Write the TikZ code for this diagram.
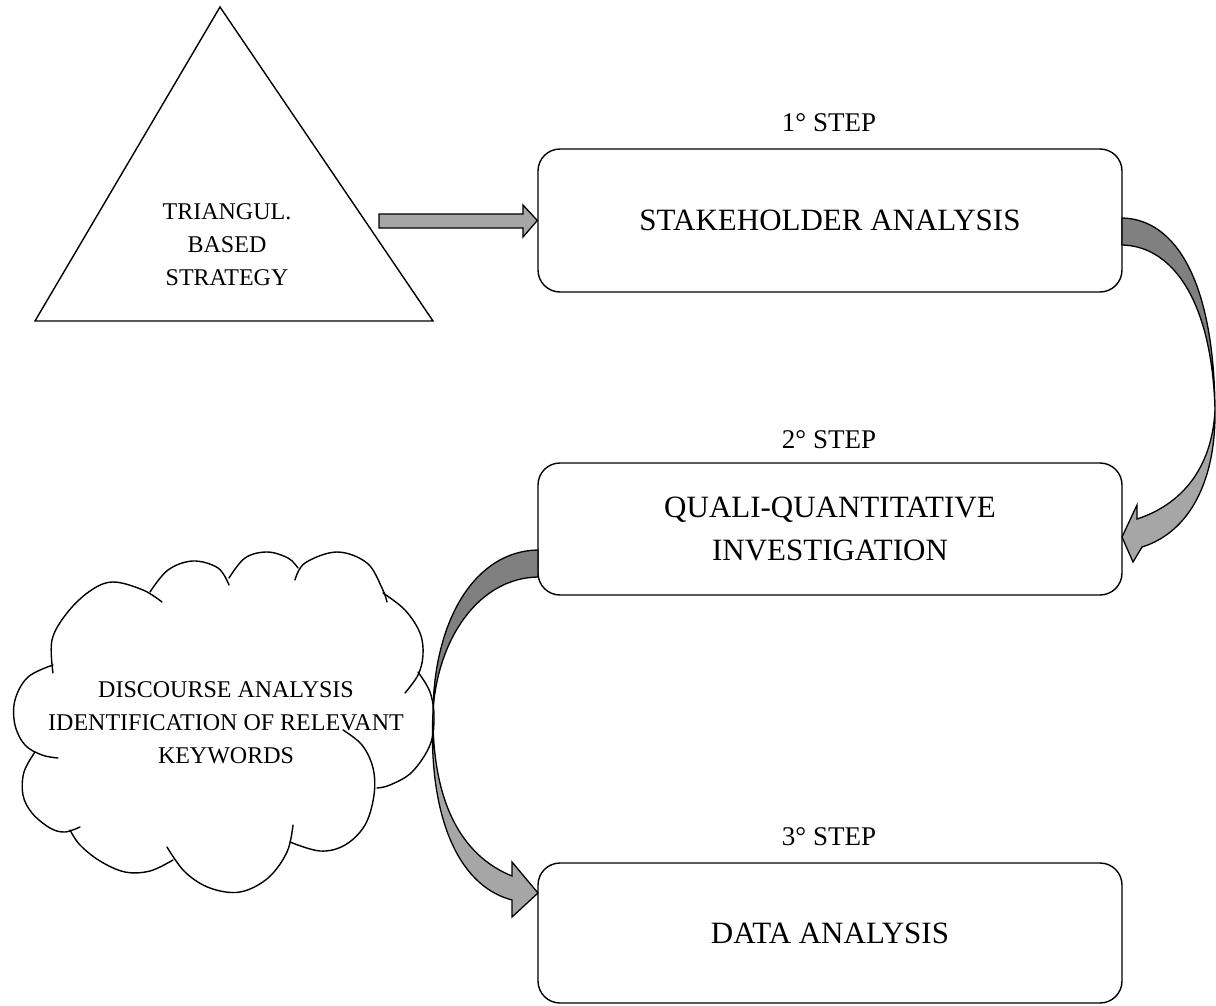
\documentclass[tikz,border=0pt]{standalone}
\usepackage{fontspec}
\setmainfont{Liberation Serif}
\usetikzlibrary{calc}
\definecolor{bandDark}{HTML}{808080}
\definecolor{bandLight}{HTML}{A6A6A6}
\begin{document}
\begin{tikzpicture}[x=1pt,y=-1pt,
  stepbox/.style={draw, line width=1.4pt, rounded corners=22pt, fill=white,
    minimum width=584pt, inner sep=0pt, align=center,
    font=\fontsize{31}{43}\selectfont},
  steplabel/.style={font=\fontsize{27}{32}\selectfont, inner sep=0pt},
  smalltext/.style={font=\fontsize{24}{33}\selectfont, align=center, inner sep=0pt},
  darkband/.style={fill=bandDark, draw=black, line width=1.3pt, line join=round},
  lightband/.style={fill=bandLight, draw=black, line width=1.3pt, line join=miter},
  cloudline/.style={draw, line width=1.4pt, line cap=round},
  shapeline/.style={draw, line width=1.4pt}
]
\useasboundingbox (0,0) rectangle (1216,1006);
\clip (0,0) rectangle (1216,1006);

% triangle
\draw[shapeline, fill=white] (220,7) -- (433,321) -- (35,321) -- cycle;
\node[smalltext] (tri) at (227,245) {TRIANGUL.\\BASED\\STRATEGY};

% step boxes
\node[stepbox, minimum height=143pt] (b1) at (830,220.5) {STAKEHOLDER ANALYSIS};
\node[stepbox, minimum height=132pt] (b2) at (830,529) {QUALI-QUANTITATIVE\\INVESTIGATION};
\node[stepbox, minimum height=140pt] (b3) at (830,933) {DATA ANALYSIS};

\node[steplabel] (l1) at (829,123) {1° STEP};
\node[steplabel] (l2) at (829,440) {2° STEP};
\node[steplabel] (l3) at (829,837) {3° STEP};

% cloud
\draw[cloudline] plot[smooth, tension=0.6] coordinates {(53,673) (52,640) (67,613) (90,591) (113,582) (143,590) (162,602)};
\draw[cloudline] plot[smooth, tension=0.6] coordinates {(150,592) (168,570) (193,561) (218,568) (229,585)};
\draw[cloudline] plot[smooth, tension=0.6] coordinates {(229,578) (245,558) (267,552) (288,558) (298,568)};
\draw[cloudline] plot[smooth, tension=0.6] coordinates {(295,580) (305,563) (337,552) (367,563) (382,588) (387,602)};
\draw[cloudline] plot[smooth, tension=0.6] coordinates {(383,593) (405,610) (420,633) (423,655) (418,675) (405,693)};
\draw[cloudline] plot[smooth, tension=0.6] coordinates {(418,672) (430,692) (434,717) (430,745) (412,772) (390,785) (377,788)};
\draw[cloudline] plot[smooth, tension=0.6] coordinates {(343,730) (362,745) (373,768) (374,795) (365,825) (345,845) (320,851) (290,842)};
\draw[cloudline] plot[smooth, tension=0.6] coordinates {(293,825) (287,852) (268,878) (240,892) (210,888) (185,872) (167,847)};
\draw[cloudline] plot[smooth, tension=0.6] coordinates {(173,860) (150,871) (125,872) (100,861) (80,845) (70,830)};
\draw[cloudline] plot[smooth, tension=0.6] coordinates {(35,752) (24,772) (23,795) (32,813) (50,828) (65,832) (80,827)};
\draw[cloudline] plot[smooth, tension=0.6] coordinates {(53,665) (28,677) (15,700) (15,725) (25,745) (42,755) (58,758)};
\node[smalltext] (cl) at (226,723) {DISCOURSE ANALYSIS\\IDENTIFICATION OF RELEVANT\\KEYWORDS};

% straight block arrow: triangle -> step 1
\draw[lightband] (379,214) -- (523,214) -- (523,205) -- (b1.west) -- (523,237) -- (523,228) -- (379,228) -- cycle;

% curved block arrow: step 1 -> step 2 (right side)
\coordinate (p1) at (1215,410);
\draw[darkband] (1122,218) .. controls (1175,219) and (1214,280) .. (p1)
   .. controls (1212,300) and (1172,246) .. (1122,245) -- cycle;
\draw[lightband] (p1) .. controls (1216,480) and (1190,532) .. (1142,547)
   -- (1133,562) -- (1122,537) -- (1137,505) -- (1137,519)
   .. controls (1180,505) and (1212,470) .. (p1) -- cycle;

% curved block arrow: step 2 -> step 3 (left side)
\coordinate (p2) at (433,712);
\draw[darkband] (538,550) .. controls (475,551) and (434,620) .. (p2)
   .. controls (437,640) and (478,578) .. (538,577) -- cycle;
\draw[lightband] (p2) .. controls (432,800) and (460,855) .. (512,876)
   -- (512,862) -- (538,893) -- (512,917) -- (512,900)
   .. controls (455,885) and (428,810) .. (p2) -- cycle;
\end{tikzpicture}
\end{document}
